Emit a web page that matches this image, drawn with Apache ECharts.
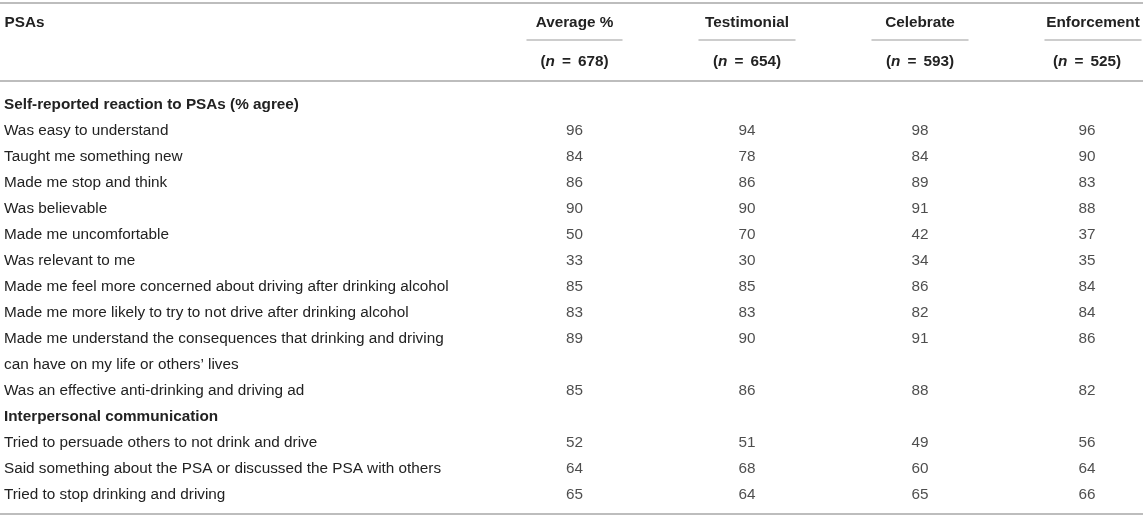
<!DOCTYPE html>
<html>
<head>
    <meta charset="utf-8">
    <title>PSAs</title>
    <script src="https://cdn.jsdelivr.net/npm/echarts@6/dist/echarts.min.js"></script>
    <style>
        html, body { margin: 0; padding: 0; background: #fff; }
    </style>
</head>
<body>
<div id="main" style="width: 1143px;height:518px"></div>
<script type="text/javascript">
    var columns = ['Average %', 'Testimonial', 'Celebrate', 'Enforcement'];
    var sampleSizes = [678, 654, 593, 525];
    var sections = ['Self-reported reaction to PSAs (% agree)', 'Interpersonal communication'];
    var reactionItems = [
        'Was easy to understand',
        'Taught me something new',
        'Made me stop and think',
        'Was believable',
        'Made me uncomfortable',
        'Was relevant to me',
        'Made me feel more concerned about driving after drinking alcohol',
        'Made me more likely to try to not drive after drinking alcohol',
        'Made me understand the consequences that drinking and driving\ncan have on my life or others\u2019 lives',
        'Was an effective anti-drinking and driving ad'
    ];
    var communicationItems = [
        'Tried to persuade others to not drink and drive',
        'Said something about the PSA or discussed the PSA with others',
        'Tried to stop drinking and driving'
    ];
    var averageValues     = [96, 84, 86, 90, 50, 33, 85, 83, 89, 85, 52, 64, 65];
    var testimonialValues = [94, 78, 86, 90, 70, 30, 85, 83, 90, 86, 51, 68, 64];
    var celebrateValues   = [98, 84, 89, 91, 42, 34, 86, 82, 91, 88, 49, 60, 65];
    var enforcementValues = [96, 90, 83, 88, 37, 35, 84, 84, 86, 82, 56, 64, 66];
    var columnValues = [averageValues, testimonialValues, celebrateValues, enforcementValues];

    // one category per printed text line; values sit on the first line of each item
    var lines = [];
    var valueLine = [];
    function addSection(title, items) {
        lines.push(title);
        items.forEach(function (t) {
            valueLine.push(lines.length);
            t.split('\n').forEach(function (p) { lines.push(p); });
        });
    }
    addSection(sections[0], reactionItems);
    addSection(sections[1], communicationItems);

    var FONT = "'Liberation Sans', Arial, Helvetica, sans-serif";
    var FS = 15.3;
    var TEXT = '#222';
    var RULE = '#bdbdbd';

    // column layout: left edge and width of each column (header underline)
    var colLeft = [527, 699, 872, 1045];
    var colWidth = [95, 96, 96, 96];
    var colShift = [0, 0, 0, -6];
    var TOP = 105, BOTTOM = 23;

    var myChart = echarts.init(document.getElementById('main'));

    var grids = [{ left: 4, width: 1, top: TOP, bottom: BOTTOM, outerBoundsMode: 'none' }];
    var xAxes = [{
        gridIndex: 0, type: 'category', position: 'top', offset: 65,
        data: ['PSAs'],
        axisLine: { show: false }, axisTick: { show: false },
        axisLabel: { align: 'left', margin: 10, fontFamily: FONT, fontSize: FS, fontWeight: 'bold', color: TEXT }
    }];
    var yAxes = [{
        gridIndex: 0, type: 'category', inverse: true, boundaryGap: false,
        data: lines,
        axisLine: { show: false }, axisTick: { show: false },
        axisLabel: {
            inside: true, margin: 0, interval: 0, align: 'left',
            fontFamily: FONT, fontSize: FS, color: TEXT,
            formatter: function (v) {
                return sections.indexOf(v) >= 0 ? '{b|' + v + '}' : '{r|' + v + '}';
            },
            rich: {
                b: { fontFamily: FONT, fontSize: FS, fontWeight: 'bold', color: TEXT },
                r: { fontFamily: FONT, fontSize: FS, color: TEXT }
            }
        }
    }];
    var series = [];

    columns.forEach(function (name, c) {
        var g = c + 1;
        grids.push({ left: colLeft[c], width: colWidth[c], top: TOP, bottom: BOTTOM, outerBoundsMode: 'none' });
        // header title with underline (axis line)
        xAxes.push({
            gridIndex: g, type: 'category', position: 'top', offset: 65,
            data: [name],
            axisLine: { show: true, lineStyle: { color: RULE, width: 1.5 } },
            axisTick: { show: false },
            axisLabel: { margin: 10, fontFamily: FONT, fontSize: FS, fontWeight: 'bold', color: TEXT }
        });
        // sample size line
        xAxes.push({
            gridIndex: g, type: 'category', position: 'top', offset: 0,
            data: [sampleSizes[c]],
            axisLine: { show: false }, axisTick: { show: false },
            axisLabel: {
                margin: 36,
                formatter: function (v) { return '{p|(}{i|n}{e|=}{p|' + v + ')}'; },
                rich: {
                    p: { fontFamily: FONT, fontSize: FS, fontWeight: 'bold', color: TEXT },
                    i: { fontFamily: FONT, fontSize: FS, fontWeight: 'bold', fontStyle: 'italic', color: TEXT },
                    e: { fontFamily: FONT, fontSize: FS, fontWeight: 'bold', color: TEXT, padding: [0, 7, 0, 7] }
                },
                padding: [0, -2 * colShift[c], 0, 0]
            }
        });
        yAxes.push({
            gridIndex: g, type: 'category', inverse: true, boundaryGap: false,
            data: lines, show: false
        });
        series.push({
            type: 'scatter',
            xAxisIndex: 1 + c * 2,
            yAxisIndex: g,
            symbolSize: 0,
            silent: true,
            data: columnValues[c].map(function (v, k) { return [0, valueLine[k], v]; }),
            label: {
                show: true, position: 'inside', offset: [colShift[c], 0],
                fontFamily: FONT, fontSize: FS, color: TEXT,
                formatter: function (p) { return p.value[2]; }
            }
        });
    });

    var option = {
        animation: false,
        grid: grids,
        xAxis: xAxes,
        yAxis: yAxes,
        series: series,
        graphic: [
            { type: 'rect', left: 0, top: 2, shape: { width: 1143, height: 2 }, style: { fill: RULE } },
            { type: 'rect', left: 0, top: 80, shape: { width: 1143, height: 2 }, style: { fill: RULE } },
            { type: 'rect', left: 0, top: 513, shape: { width: 1143, height: 2 }, style: { fill: RULE } }
        ]
    };

    myChart.setOption(option);
</script>
</body>
</html>
